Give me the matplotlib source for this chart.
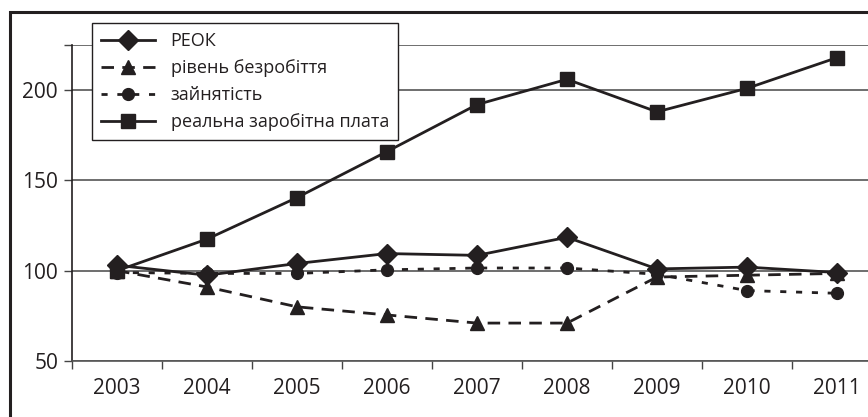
import numpy as np
import matplotlib
matplotlib.use('Agg')
from matplotlib import pyplot as plt
from matplotlib.patches import Rectangle

plt.rcParams['font.family'] = ['Open Sans', 'DejaVu Sans']

#%%# data #%%#
years = ['2003', '2004', '2005', '2006', '2007', '2008', '2009', '2010', '2011']
reok = [103, 97.5, 104, 109.5, 108.5, 118.5, 101, 102, 99]
unemployment = [100, 91, 80, 75.5, 71, 71, 96.5, 97.5, 98.5]
employment = [99, 98.5, 98.5, 100.5, 101.5, 101.5, 98, 89, 87.5]
realWage = [100, 117.5, 140.5, 166, 192, 206, 188, 201, 218]

yTicks = [50, 100, 150, 200, 225]
yLabels = ['50', '100', '150', '200', '']

#%%# figure #%%#
W, H = 868, 417
fig = plt.figure(figsize=(W/100, H/100), dpi=100)
ax = fig.add_axes([72/W, 1-361/H, 810/W, 316/H])

x = np.arange(len(years))
ink = '#231f20'
ax.plot(x, reok, color=ink, lw=2, marker='D', ms=10, label='РЕОК', zorder=5)
ax.plot(x, unemployment, color=ink, lw=2, ls=(0, (4.5, 3)), marker='^', ms=10,
        label='рівень безробіття', zorder=4)
ax.plot(x, employment, color=ink, lw=2, ls=(0, (2.2, 3.5)), marker='o', ms=8.5,
        label='зайнятість', zorder=4)
ax.plot(x, realWage, color=ink, lw=2, marker='s', ms=9.5,
        label='реальна заробітна плата', zorder=5)

ax.set_xlim(-0.5, len(years)-0.5)
ax.set_ylim(50, 225)

# category boundaries as ticks, labels centred
ax.set_xticks(np.arange(len(years)+1)-0.5)
ax.set_xticklabels([])
ax.set_xticks(x, minor=True)
ax.set_xticklabels(years, minor=True)
ax.tick_params(axis='x', which='major', direction='out', length=6, width=1, color='#444444')
ax.tick_params(axis='x', which='minor', length=0, pad=12, labelsize=15, labelcolor=ink)

ax.set_yticks(yTicks)
ax.set_yticklabels(yLabels)
ax.tick_params(axis='y', direction='out', length=6, width=1, color='#444444',
               pad=4, labelsize=15, labelcolor=ink)
ax.yaxis.grid(True, color='#555555', lw=1.2)
ax.set_axisbelow(True)

for s in ['top', 'right']:
    ax.spines[s].set_visible(False)
ax.spines['left'].set_color(ink)
ax.spines['left'].set_linewidth(1.2)
ax.spines['bottom'].set_color('#555555')
ax.spines['bottom'].set_linewidth(1.2)

leg = fig.legend(loc='upper left', bbox_to_anchor=(92/W, 1-23/H), fontsize=13,
                 frameon=True, fancybox=False, edgecolor=ink, framealpha=1,
                 handlelength=3.0, handletextpad=0.85, borderpad=0.5,
                 labelspacing=0.5, borderaxespad=0)
leg.get_frame().set_linewidth(1)
for t in leg.get_texts(): t.set_color(ink)

# outer frame (cropped at right and bottom)
fig.patches.append(Rectangle((10/W, -0.5), 2, 0.5+1-12/H, transform=fig.transFigure,
                             fill=False, lw=2.2, edgecolor=ink))

fig.savefig('out.png', dpi=100)
